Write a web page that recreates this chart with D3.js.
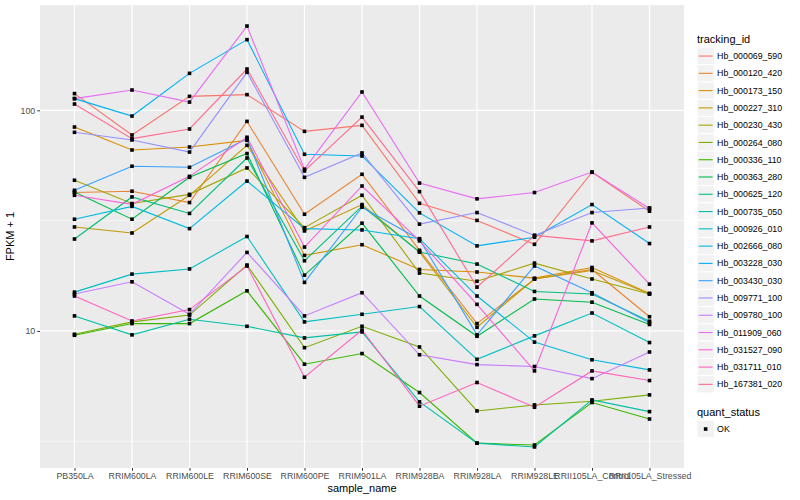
<!DOCTYPE html>
<html>
<head>
<meta charset="utf-8">
<script src="https://cdn.jsdelivr.net/npm/d3@7"></script>
<style>
  body { margin: 0; background: #fff; }
  text { font-family: "Liberation Sans", Arial, sans-serif; }
</style>
</head>
<body>
<svg id="chart" width="800" height="500"></svg>
<script>
// sample names along x
var samples = ["PB350LA", "RRIM600LA", "RRIM600LE", "RRIM600SE", "RRIM600PE", "RRIM901LA",
               "RRIM928BA", "RRIM928LA", "RRIM928LE", "RRII105LA_Control", "RRII105LA_Stressed"];

var trackingIds = ["Hb_000069_590", "Hb_000120_420", "Hb_000173_150", "Hb_000227_310", "Hb_000230_430",
                   "Hb_000264_080", "Hb_000336_110", "Hb_000363_280", "Hb_000625_120", "Hb_000735_050",
                   "Hb_000926_010", "Hb_002666_080", "Hb_003228_030", "Hb_003430_030", "Hb_009771_100",
                   "Hb_009780_100", "Hb_011909_060", "Hb_031527_090", "Hb_031711_010", "Hb_167381_020"];

// FPKM + 1, one array per gene, same order as samples
var hb_000069_590 = [119.1, 77.3, 115.7, 117.8, 80.3, 85.5, 37.9, 31.7, 24.7, 52.4, 34.9];
var hb_000120_420 = [42.4, 43.0, 38.2, 89.1, 33.8, 51.3, 23.2, 10.8, 17.2, 19.0, 11.6];
var hb_000173_150 = [84.0, 66.1, 68.2, 73.1, 22.0, 24.6, 19.0, 18.5, 17.35, 19.4, 14.8];
var hb_000227_310 = [29.6, 27.8, 41.2, 69.4, 28.4, 37.4, 22.8, 10.39, 17.2, 18.8, 14.75];
var hb_000230_430 = [48.2, 37.8, 41.6, 54.8, 29.4, 41.2, 18.3, 16.8, 20.3, 17.2, 14.7];
var hb_000264_080 = [9.66, 10.99, 11.8, 19.9, 8.4, 10.5, 8.46, 4.34, 4.62, 4.80, 5.13];
var hb_000336_110 = [9.56, 10.8, 10.8, 15.2, 7.07, 7.9, 5.26, 3.10, 3.04, 4.74, 3.99];
var hb_000363_280 = [42.6, 32.1, 49.7, 63.7, 17.9, 30.8, 14.4, 9.46, 13.96, 13.5, 10.7];
var hb_000625_120 = [26.1, 40.5, 34.1, 60.8, 20.8, 36.8, 22.8, 20.1, 15.1, 14.7, 11.07];
var hb_000735_050 = [11.7, 9.6, 11.3, 10.5, 9.3, 9.9, 4.77, 3.10, 2.98, 4.87, 4.31];
var hb_000926_010 = [15.0, 18.1, 19.1, 26.8, 10.99, 11.9, 12.9, 7.44, 9.5, 12.06, 8.86];
var hb_002666_080 = [32.1, 36.7, 29.1, 47.8, 29.1, 28.7, 26.2, 14.4, 8.9, 7.4, 6.66];
var hb_003228_030 = [113.0, 94.2, 147.1, 209.1, 63.2, 62.1, 34.3, 24.3, 26.6, 37.4, 24.9];
var hb_003430_030 = [43.4, 55.8, 55.2, 74.4, 16.6, 36.4, 26.0, 9.6, 19.7, 14.9, 10.9];
var hb_009771_100 = [79.5, 73.4, 64.7, 148.7, 49.7, 64.1, 30.5, 34.4, 27.1, 34.4, 36.1];
var hb_009780_100 = [14.7, 16.7, 11.9, 22.7, 11.7, 14.9, 7.8, 7.04, 6.9, 6.08, 8.03];
var hb_011909_060 = [113.0, 123.6, 109.0, 241.0, 54.1, 121.1, 46.8, 39.7, 42.4, 52.5, 35.9];
var hb_031527_090 = [41.2, 37.5, 50.2, 75.5, 24.0, 45.4, 25.6, 13.2, 6.59, 30.9, 16.3];
var hb_031711_010 = [14.4, 11.1, 12.5, 19.7, 6.17, 10.1, 4.56, 5.84, 4.51, 6.59, 5.96];
var hb_167381_020 = [106.8, 74.4, 82.3, 153.9, 53.1, 93.2, 42.8, 15.8, 27.1, 25.6, 29.6];

var yBreaks = [10, 100];
var yMinor = [Math.sqrt(10), Math.sqrt(1000), Math.sqrt(100000)];
var quantStatus = ["OK"];

var seriesValues = [hb_000069_590, hb_000120_420, hb_000173_150, hb_000227_310, hb_000230_430,
                    hb_000264_080, hb_000336_110, hb_000363_280, hb_000625_120, hb_000735_050,
                    hb_000926_010, hb_002666_080, hb_003228_030, hb_003430_030, hb_009771_100,
                    hb_009780_100, hb_011909_060, hb_031527_090, hb_031711_010, hb_167381_020];

// ggplot default hue palette for 20 groups
var palette = ["#F8766D", "#EA8331", "#D89000", "#C09B00", "#A3A500", "#7CAE00", "#39B600", "#00BB4E",
               "#00BF7D", "#00C1A3", "#00BFC4", "#00BAE0", "#00B0F6", "#35A2FF", "#9590FF", "#C77CFF",
               "#E76BF3", "#FA62DB", "#FF62BC", "#FF6C91"];

var series = trackingIds.map(function(id, i) {
    return { id: id, values: seriesValues[i].map(function(v, j) { return { sample: samples[j], v: v }; }) };
});

var color = d3.scaleOrdinal().domain(trackingIds).range(palette);

var svg = d3.select("#chart");

var panel = { left: 40, right: 684, top: 5, bottom: 468 };

var x = d3.scalePoint()
    .domain(samples)
    .range([panel.left, panel.right])
    .padding(0.6);

// log scale with ggplot style 5% expansion
var all = [].concat.apply([], seriesValues);
var lmin = Math.log10(d3.min(all)), lmax = Math.log10(d3.max(all));
var pad = (lmax - lmin) * 0.05;
var y = d3.scaleLog()
    .domain([Math.pow(10, lmin - pad), Math.pow(10, lmax + pad)])
    .range([panel.bottom, panel.top]);

// panel background
svg.append("rect")
    .attr("x", panel.left).attr("y", panel.top)
    .attr("width", panel.right - panel.left).attr("height", panel.bottom - panel.top)
    .attr("fill", "#EBEBEB");

var grid = svg.append("g");
grid.selectAll(".minor")
    .data(yMinor.filter(function(d) { return y(d) >= panel.top && y(d) <= panel.bottom; }))
    .enter().append("line")
    .attr("x1", panel.left).attr("x2", panel.right)
    .attr("y1", function(d) { return y(d); }).attr("y2", function(d) { return y(d); })
    .attr("stroke", "#fff").attr("stroke-width", 0.6);
grid.selectAll(".major")
    .data(yBreaks)
    .enter().append("line")
    .attr("x1", panel.left).attr("x2", panel.right)
    .attr("y1", function(d) { return y(d); }).attr("y2", function(d) { return y(d); })
    .attr("stroke", "#fff").attr("stroke-width", 1.2);
grid.selectAll(".xgrid")
    .data(samples)
    .enter().append("line")
    .attr("x1", function(d) { return x(d); }).attr("x2", function(d) { return x(d); })
    .attr("y1", panel.top).attr("y2", panel.bottom)
    .attr("stroke", "#fff").attr("stroke-width", 1.2);

var line = d3.line()
    .x(function(d) { return x(d.sample); })
    .y(function(d) { return y(d.v); });

svg.append("g").selectAll("path")
    .data(series)
    .enter().append("path")
    .attr("d", function(d) { return line(d.values); })
    .attr("fill", "none")
    .attr("stroke", function(d) { return color(d.id); })
    .attr("stroke-width", 1.1);

var pts = [].concat.apply([], series.map(function(s) { return s.values; }));
svg.append("g").selectAll("rect")
    .data(pts)
    .enter().append("rect")
    .attr("x", function(d) { return x(d.sample) - 1.8; })
    .attr("y", function(d) { return y(d.v) - 1.8; })
    .attr("width", 3.6).attr("height", 3.6)
    .attr("fill", "#000");

// axes
var xAxis = d3.axisBottom(x).tickSize(2.75).tickPadding(2);
var gx = svg.append("g").attr("transform", "translate(0," + panel.bottom + ")").call(xAxis);
var yAxis = d3.axisLeft(y).tickValues(yBreaks).tickFormat(d3.format("d")).tickSize(2.75).tickPadding(2);
var gy = svg.append("g").attr("transform", "translate(" + panel.left + ",0)").call(yAxis);
[gx, gy].forEach(function(g) {
    g.select(".domain").remove();
    g.selectAll(".tick line").attr("stroke", "#333333");
    g.selectAll(".tick text").attr("fill", "#4D4D4D").style("font-size", "8.8px")
        .style("font-family", "'Liberation Sans', Arial, sans-serif");
});

svg.append("text")
    .attr("x", (panel.left + panel.right) / 2).attr("y", 492)
    .attr("text-anchor", "middle").style("font-size", "11px")
    .text("sample_name");
svg.append("text")
    .attr("transform", "translate(14," + ((panel.top + panel.bottom) / 2) + ") rotate(-90)")
    .attr("text-anchor", "middle").style("font-size", "11px")
    .text("FPKM + 1");

// legend: tracking_id
var lg = svg.append("g").attr("transform", "translate(697,0)");
lg.append("text").attr("x", 0).attr("y", 43).style("font-size", "11px").text("tracking_id");
var keySize = 17.28;
var item = lg.selectAll(".item")
    .data(trackingIds)
    .enter().append("g")
    .attr("transform", function(d, i) { return "translate(0," + (47.4 + i * keySize) + ")"; });
item.append("rect")
    .attr("width", keySize).attr("height", keySize)
    .attr("fill", "#F2F2F2").attr("stroke", "#fff").attr("stroke-width", 1);
item.append("line")
    .attr("x1", 1.7).attr("x2", keySize - 1.7)
    .attr("y1", keySize / 2).attr("y2", keySize / 2)
    .attr("stroke", function(d) { return color(d); }).attr("stroke-width", 1.1);
item.append("text")
    .attr("x", keySize + 2.8).attr("y", keySize / 2 + 3.1)
    .style("font-size", "8.8px")
    .text(function(d) { return d; });

// legend: quant_status
var lq = svg.append("g").attr("transform", "translate(697,0)");
lq.append("text").attr("x", 0).attr("y", 416).style("font-size", "11px").text("quant_status");
var qi = lq.selectAll(".q")
    .data(quantStatus)
    .enter().append("g")
    .attr("transform", "translate(0,420.4)");
qi.append("rect")
    .attr("width", keySize).attr("height", keySize)
    .attr("fill", "#F2F2F2").attr("stroke", "#fff");
qi.append("rect")
    .attr("x", keySize / 2 - 1.8).attr("y", keySize / 2 - 1.8)
    .attr("width", 3.6).attr("height", 3.6).attr("fill", "#000");
qi.append("text")
    .attr("x", keySize + 2.8).attr("y", keySize / 2 + 3.1)
    .style("font-size", "8.8px")
    .text(function(d) { return d; });
</script>
</body>
</html>
